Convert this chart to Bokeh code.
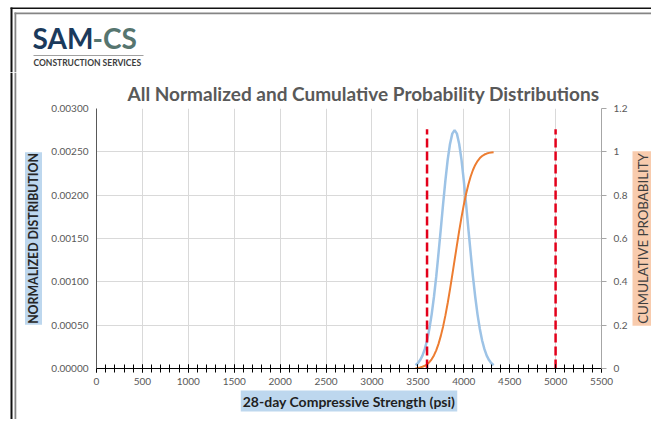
from bokeh.plotting import figure
from bokeh.layouts import column, row
from bokeh.models import (Range1d, LinearAxis, Label, NumeralTickFormatter,
                          SingleIntervalTicker, FixedTicker, Title)
from bokeh.embed import file_html
from bokeh.resources import INLINE

# ---------------- data ----------------
strength_psi = [3475, 3500, 3525, 3550, 3575, 3600, 3625, 3650, 3675, 3700,
                3725, 3750, 3775, 3800, 3825, 3850, 3875, 3900, 3925, 3950,
                3975, 4000, 4025, 4050, 4075, 4100, 4125, 4150, 4175, 4200,
                4225, 4250, 4275, 4300, 4325]
normalized = [0.0000375, 0.0000612, 0.0000971, 0.000149, 0.000223, 0.000323,
              0.000455, 0.000622, 0.000825, 0.00106, 0.00133, 0.00161,
              0.00190, 0.00217, 0.00241, 0.00259, 0.00271, 0.00275,
              0.00271, 0.00259, 0.00241, 0.00217, 0.00190, 0.00161,
              0.00133, 0.00106, 0.000825, 0.000622, 0.000455, 0.000323,
              0.000223, 0.000149, 0.0000971, 0.0000612, 0.0000375]
cumulative = [0.0017, 0.0029, 0.0048, 0.0079, 0.0125, 0.0193, 0.0289, 0.0424,
              0.0604, 0.0839, 0.1137, 0.1506, 0.1943, 0.2451, 0.3025, 0.3650,
              0.4317, 0.5000, 0.5683, 0.6350, 0.6975, 0.7549, 0.8057, 0.8494,
              0.8863, 0.9161, 0.9396, 0.9576, 0.9711, 0.9807, 0.9875, 0.9921,
              0.9952, 0.9971, 0.9983]
limit_psi = [3600, 5000]
limit_top = [0.00276, 0.00276]
limit_bottom = [0, 0]

x_ticks = [0, 500, 1000, 1500, 2000, 2500, 3000, 3500, 4000, 4500, 5000, 5500]
left_ticks = [0, 0.0005, 0.001, 0.0015, 0.002, 0.0025, 0.003]
right_ticks = [0, 0.2, 0.4, 0.6, 0.8, 1.0, 1.2]

TITLE = "All Normalized and Cumulative Probability Distributions"
X_TITLE = "28-day Compressive Strength (psi)"
LEFT_TITLE = "NORMALIZED DISTRIBUTION"
RIGHT_TITLE = "CUMULATIVE PROBABILITY"
LOGO_A = "SAM"
LOGO_B = "-CS"
LOGO_SUB = "CONSTRUCTION SERVICES"

FONT = "Lato"
GRAY = "#595959"

# ---------------- page geometry ----------------
PAGE_W = 651
HEAD_H = 72            # header strip (logo)
BODY_H = 347           # chart row
LEFT_W = 43            # left strip (left axis title)
RIGHT_W = 23           # right strip (right axis title)


def no_align(f):
    if "frame_align" in f.properties():
        f.frame_align = False


def strip(width, height):
    f = figure(width=width, height=height, x_range=Range1d(0, width),
               y_range=Range1d(height, 0), min_border=0,
               x_axis_location=None, y_axis_location=None,
               output_backend="svg", toolbar_location=None,
               background_fill_color="white", border_fill_color="white")
    f.outline_line_color = None
    f.xgrid.visible = False
    f.ygrid.visible = False
    no_align(f)
    return f


def bar(f, x0, x1, y0, y1, color):
    f.quad(left=[x0], right=[x1], top=[y0], bottom=[y1], fill_color=color,
           line_color=None)


def text(f, s, x, y, size, color, style="normal", align="left",
         baseline="middle", angle=0, bg=None, pad=0):
    kw = dict(x=x, y=y, text=s, text_font=FONT, text_font_size=size,
              text_font_style=style, text_color=color, text_align=align,
              text_baseline=baseline, angle=angle, angle_units="deg")
    if bg is not None:
        kw.update(background_fill_color=bg, padding=pad)
    f.add_layout(Label(**kw))


BLACK_LINE = "#111111"
GRAY_LINE = "#858585"

# ---------------- header (logo + page frame) ----------------
head = strip(PAGE_W, HEAD_H)
bar(head, 10, PAGE_W, 7, 8.5, BLACK_LINE)
bar(head, 10, 12, 7, HEAD_H, BLACK_LINE)
bar(head, 14, PAGE_W, 12, 13.8, GRAY_LINE)
bar(head, 14, 15.8, 12, HEAD_H, GRAY_LINE)
text(head, LOGO_A, 32, 37.5, "28px", "#1B3A5C", style="bold")
text(head, LOGO_B, 92, 37.5, "28px", "#56756F", style="bold")
bar(head, 33, 143, 54.5, 55.5, "#A0A0A0")
text(head, LOGO_SUB, 33, 62.5, "8.5px", "#3C3C3C", style="bold")

# ---------------- left strip ----------------
left = strip(LEFT_W, BODY_H)
bar(left, 10, 12, 0, BODY_H, BLACK_LINE)
bar(left, 14, 15.8, 0, BODY_H, GRAY_LINE)
text(left, LEFT_TITLE, 33, 238 - HEAD_H, "12.3px", "#262626", style="bold",
     align="center", angle=90, bg="#BDD7EE", pad=1)

# ---------------- right strip ----------------
right = strip(RIGHT_W, BODY_H)
text(right, RIGHT_TITLE, 640 - (PAGE_W - RIGHT_W), 238 - HEAD_H, "13.3px",
     "#3F3F3F", align="center", angle=90, bg="#F8CBAD", pad=2)

# ---------------- main chart ----------------
p = figure(frame_width=505, frame_height=260,
           min_border_left=96 - LEFT_W, min_border_right=27,
           min_border_top=108 - HEAD_H, min_border_bottom=BODY_H - 36 - 260,
           x_range=Range1d(0, 5500), y_range=Range1d(0, 0.003),
           output_backend="svg", toolbar_location=None,
           background_fill_color="white", border_fill_color="white",
           title=TITLE)
p.outline_line_color = None
p.extra_y_ranges = {"cum": Range1d(0, 1.2)}
no_align(p)

p.title.align = "left"
p.title.offset = 31
p.title.standoff = 7
p.title.text_font = FONT
p.title.text_font_size = "19px"
p.title.text_font_style = "bold"
p.title.text_color = GRAY

# grids
p.xgrid.ticker = FixedTicker(ticks=x_ticks)
p.ygrid.ticker = FixedTicker(ticks=left_ticks)
p.xgrid.grid_line_color = "#D9D9D9"
p.ygrid.grid_line_color = "#D9D9D9"

# x axis
xa = p.xaxis[0]
xa.ticker = SingleIntervalTicker(interval=500, num_minor_ticks=5)
xa.axis_line_color = "#000000"
xa.major_tick_line_color = "#000000"
xa.minor_tick_line_color = "#000000"
xa.major_tick_in = 4
xa.major_tick_out = 4
xa.minor_tick_in = 4
xa.minor_tick_out = 4
xa.major_label_standoff = 5
xa.major_label_text_font = FONT
xa.major_label_text_font_size = "10px"
xa.major_label_text_color = GRAY

# left axis
ya = p.yaxis[0]
ya.ticker = FixedTicker(ticks=left_ticks)
ya.formatter = NumeralTickFormatter(format="0.00000")
ya.axis_line_color = GRAY
ya.major_tick_in = 0
ya.major_tick_out = 0
ya.minor_tick_line_color = None
ya.major_label_standoff = 8
ya.major_label_text_font = FONT
ya.major_label_text_font_size = "10px"
ya.major_label_text_color = GRAY

# right axis
ra = LinearAxis(y_range_name="cum", ticker=FixedTicker(ticks=right_ticks),
                formatter=NumeralTickFormatter(format="0.[0]"))
ra.axis_line_color = "#A6A6A6"
ra.major_tick_line_color = "#A6A6A6"
ra.major_tick_in = 0
ra.major_tick_out = 5
ra.minor_tick_line_color = None
ra.major_label_standoff = 7
ra.major_label_text_font = FONT
ra.major_label_text_font_size = "10px"
ra.major_label_text_color = GRAY
p.add_layout(ra, "right")

# x axis title
p.add_layout(Title(text=X_TITLE, align="center", standoff=2,
                   text_font=FONT, text_font_size="14px",
                   text_font_style="bold", text_color="#1F1F1F",
                   background_fill_color="#BDD7EE", padding=2), "below")

# glyphs
p.line(strength_psi, normalized, line_color="#9DC3E6", line_width=2.5)
p.line(strength_psi, cumulative, y_range_name="cum", line_color="#ED7D31",
       line_width=2)
p.segment(x0=limit_psi, y0=limit_bottom, x1=limit_psi, y1=limit_top,
          line_color="#E3001B", line_width=2.5, line_dash="9 4")

layout = column(head, row(left, p, right))
open("out.html", "w").write(file_html(layout, INLINE))
